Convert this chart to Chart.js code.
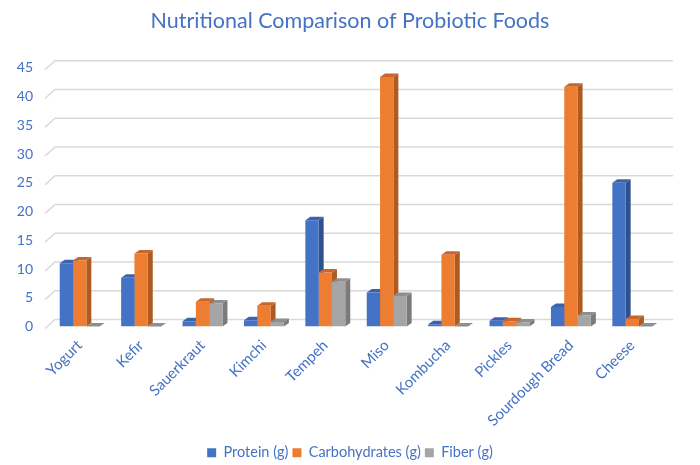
<!DOCTYPE html>
<html>
<head>
<meta charset="utf-8">
<script src="https://cdn.jsdelivr.net/npm/chart.js@4.4.1/dist/chart.umd.min.js"></script>
<style>
    html, body { margin: 0; padding: 0; background: #fff; }
    #wrap { width: 700px; height: 465px; }
</style>
</head>
<body>
<div id="wrap"><canvas id="probioticChart"></canvas></div>
<script>
// Chart data
const foods = ['Yogurt', 'Kefir', 'Sauerkraut', 'Kimchi', 'Tempeh', 'Miso', 'Kombucha', 'Pickles', 'Sourdough Bread', 'Cheese'];
const protein = [11, 8.5, 0.9, 1.1, 18.5, 5.9, 0.4, 1.0, 3.4, 25];
const carbs = [11.5, 12.7, 4.3, 3.6, 9.4, 43.4, 12.5, 0.9, 41.7, 1.3];
const fiber = [0, 0, 4.0, 0.8, 7.8, 5.3, 0, 0.7, 1.9, 0];
const yTicks = [0, 5, 10, 15, 20, 25, 30, 35, 40, 45];

const blueText = '#4472C4';
const font = "Lato, 'Noto Sans', sans-serif";

// fake 3D: side + top faces behind the front faces, back wall grid
const depthPlugin = {
    id: 'depth3d',
    beforeDatasetsDraw(chart) {
        const ctx = chart.ctx;
        const yScale = chart.scales.y;
        const area = chart.chartArea;
        const dx = 5, dy = -3.5;

        ctx.save();
        ctx.strokeStyle = '#d9d9d9';
        ctx.lineWidth = 1.5;
        yTicks.forEach(function(v) {
            const py = yScale.getPixelForValue(v);
            ctx.beginPath();
            ctx.moveTo(area.left - 4, py + 2);
            ctx.lineTo(area.left + 6, py - 7);
            ctx.lineTo(area.right + 10, py - 7);
            ctx.stroke();
        });

        chart.data.datasets.forEach(function(ds, i) {
            const meta = chart.getDatasetMeta(i);
            meta.data.forEach(function(bar) {
                const p = bar.getProps(['x', 'y', 'base', 'width'], true);
                const l = p.x - p.width / 2, r = p.x + p.width / 2;
                ctx.fillStyle = ds.sideColor;
                ctx.beginPath();
                ctx.moveTo(r, p.y);
                ctx.lineTo(r + dx, p.y + dy);
                ctx.lineTo(r + dx, p.base + dy);
                ctx.lineTo(r, p.base);
                ctx.closePath();
                ctx.fill();
                ctx.fillStyle = ds.topColor;
                ctx.beginPath();
                ctx.moveTo(l, p.y);
                ctx.lineTo(l + dx, p.y + dy);
                ctx.lineTo(r + dx, p.y + dy);
                ctx.lineTo(r, p.y);
                ctx.closePath();
                ctx.fill();
            });
        });
        ctx.restore();
    }
};

const ctx = document.getElementById('probioticChart').getContext('2d');
const probioticChart = new Chart(ctx, {
    type: 'bar',
    data: {
        labels: foods,
        datasets: [
            { label: 'Protein (g)', data: protein, backgroundColor: '#4472C4', sideColor: '#2F528F', topColor: '#3B63AD' },
            { label: 'Carbohydrates (g)', data: carbs, backgroundColor: '#ED7D31', sideColor: '#AE5A21', topColor: '#C8662A' },
            { label: 'Fiber (g)', data: fiber, backgroundColor: '#A5A5A5', sideColor: '#7B7B7B', topColor: '#8E8E8E' }
        ]
    },
    options: {
        responsive: true,
        maintainAspectRatio: false,
        animation: false,
        datasets: {
            bar: { categoryPercentage: 0.65, barPercentage: 1.0 }
        },
        layout: {
            padding: { left: 10, right: 10, top: 0, bottom: -5 }
        },
        plugins: {
            title: {
                display: true,
                text: 'Nutritional Comparison of Probiotic Foods',
                color: blueText,
                font: { family: font, size: 21.5, weight: 'normal' },
                padding: { top: 8, bottom: 34 }
            },
            legend: {
                position: 'bottom',
                labels: {
                    color: blueText,
                    boxWidth: 9,
                    boxHeight: 9,
                    padding: 4,
                    font: { family: font, size: 14.5 }
                }
            },
            tooltip: { enabled: false }
        },
        scales: {
            x: {
                grid: { display: false, drawTicks: false },
                border: { display: false },
                ticks: {
                    color: blueText,
                    minRotation: 45,
                    maxRotation: 45,
                    padding: 10,
                    font: { family: font, size: 15 }
                },
                afterFit: function(scale) { scale.height = 115; }
            },
            y: {
                min: 0,
                max: 45,
                grid: { display: false, drawTicks: false },
                border: { display: false },
                ticks: {
                    stepSize: 5,
                    color: blueText,
                    padding: 16,
                    font: { family: font, size: 14 }
                },
                afterFit: function(scale) { scale.width = 39; }
            },
            // empty right axis, only reserves space on the right side
            yRight: {
                position: 'right',
                grid: { display: false, drawTicks: false },
                border: { display: false },
                ticks: { display: false },
                afterFit: function(scale) { scale.width = 27; }
            }
        }
    },
    plugins: [depthPlugin]
});
</script>
</body>
</html>
